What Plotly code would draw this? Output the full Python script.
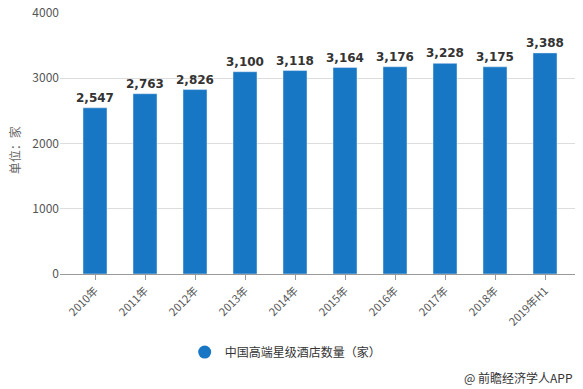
import plotly.graph_objects as go

categories = ["2010年", "2011年", "2012年", "2013年", "2014年", "2015年", "2016年", "2017年", "2018年", "2019年H1"]
values = [2547, 2763, 2826, 3100, 3118, 3164, 3176, 3228, 3175, 3388]
series_name = "中国高端星级酒店数量（家）"
y_ticks = [0, 1000, 2000, 3000, 4000]

font_family = "Microsoft YaHei, Noto Sans CJK SC, sans-serif"
bar_color = "#1777c4"

fig = go.Figure()
fig.add_trace(go.Bar(
    x=list(range(len(categories))),
    y=values,
    name=series_name,
    marker=dict(color=bar_color),
    width=0.48,
    text=[f"{v:,}" for v in values],
    texttemplate="<b>%{text}</b>",
    textposition="outside",
    constraintext="none",
    textfont=dict(family="Verdana, DejaVu Sans, sans-serif", size=12, color="#333333"),
    cliponaxis=False,
    showlegend=False,
))
# legend entry with circle symbol
fig.add_trace(go.Scatter(
    x=[None], y=[None], mode="markers", name=series_name,
    marker=dict(color=bar_color, size=13, symbol="circle"),
    showlegend=True,
))

fig.update_layout(
    width=583, height=389,
    margin=dict(l=60, r=8, t=13, b=115, autoexpand=False),
    paper_bgcolor="white", plot_bgcolor="white",
    font=dict(family=font_family, color="#555555"),
    showlegend=True,
    legend=dict(orientation="h", xref="container", x=0.49, xanchor="center",
                y=-0.299, yanchor="middle",
                font=dict(size=12, color="#333333"), itemsizing="trace"),
    xaxis=dict(
        tickmode="array", tickvals=list(range(len(categories))), ticktext=categories,
        range=[-0.7, 9.6], tickangle=-45, tickfont=dict(size=11, color="#555555"),
        showline=True, linecolor="#999999", linewidth=1,
        ticks="outside", ticklen=5, tickcolor="#999999", showgrid=False,
        automargin=False,
    ),
    yaxis=dict(
        range=[0, 4000], tickvals=y_ticks, tickfont=dict(size=12, color="#555555"),
        showgrid=True, gridcolor="#dddddd", gridwidth=1, zeroline=False,
        automargin=False, ticklabeloverflow="allow",
    ),
    annotations=[
        dict(
            text="单位：家", xref="paper", yref="paper", x=-0.089, y=0.475,
            xanchor="center", yanchor="middle", textangle=-90, showarrow=False,
            font=dict(size=12, color="#666666"),
        ),
        dict(
            text="@ 前瞻经济学人APP", xref="paper", yref="paper", x=1.0, y=-0.398,
            xanchor="right", yanchor="middle", showarrow=False,
            font=dict(size=12, color="#333333"),
        ),
    ],
)

fig.write_html("out.html", config={"displayModeBar": False},
               post_script="document.body.style.margin='0';")
